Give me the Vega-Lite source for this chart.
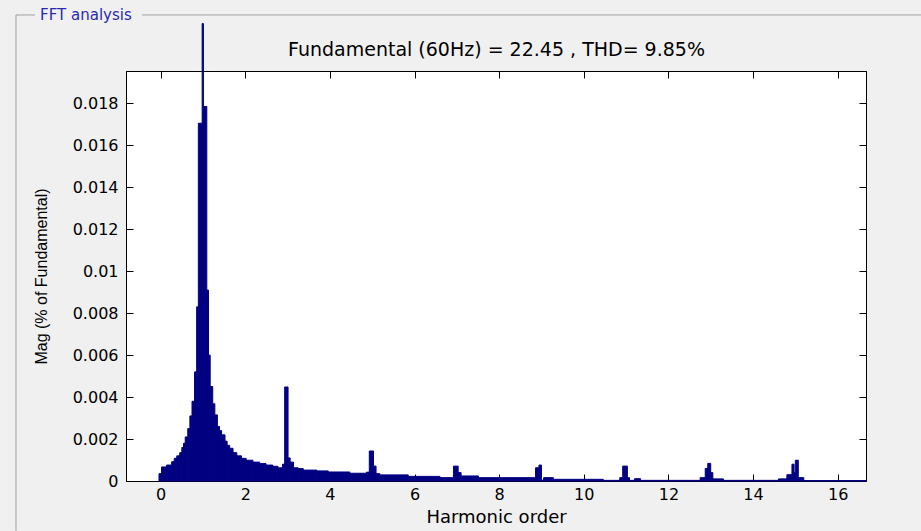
{
  "$schema": "https://vega.github.io/schema/vega-lite/v6.json",
  "autosize": {"type": "none"},
  "width": 740,
  "height": 410,
  "padding": {"left": 126, "top": 71, "right": 55, "bottom": 50},
  "background": "#f0f0f0",
  "view": {"fill": "white", "stroke": "black", "strokeWidth": 1},
  "config": {
    "axis": {
      "labelFont": "DejaVu Sans",
      "labelFontSize": 16,
      "labelColor": "black",
      "tickColor": "black",
      "tickSize": -7,
      "domainColor": "black",
      "grid": false,
      "titleFont": "DejaVu Sans",
      "titleFontWeight": "normal",
      "titleColor": "black"
    }
  },
  "datasets": {
    "spectrum": [
      {"h0": -0.04, "h1": 0.02, "m": 0.00035},
      {"h0": 0.02, "h1": 0.14, "m": 0.00067},
      {"h0": 0.14, "h1": 0.26, "m": 0.00076},
      {"h0": 0.26, "h1": 0.32, "m": 0.00092},
      {"h0": 0.32, "h1": 0.38, "m": 0.00108},
      {"h0": 0.38, "h1": 0.45, "m": 0.0012},
      {"h0": 0.45, "h1": 0.5, "m": 0.00135},
      {"h0": 0.5, "h1": 0.54, "m": 0.0016},
      {"h0": 0.54, "h1": 0.58, "m": 0.0018},
      {"h0": 0.58, "h1": 0.64, "m": 0.0021},
      {"h0": 0.64, "h1": 0.69, "m": 0.0025},
      {"h0": 0.69, "h1": 0.74, "m": 0.0031},
      {"h0": 0.74, "h1": 0.8, "m": 0.0038},
      {"h0": 0.8, "h1": 0.85, "m": 0.0052},
      {"h0": 0.85, "h1": 0.89, "m": 0.0083},
      {"h0": 0.89, "h1": 0.98, "m": 0.01705},
      {"h0": 0.98, "h1": 1.01, "m": 0.0218},
      {"h0": 1.01, "h1": 1.09, "m": 0.01785},
      {"h0": 1.09, "h1": 1.13, "m": 0.0091},
      {"h0": 1.13, "h1": 1.17, "m": 0.006},
      {"h0": 1.17, "h1": 1.23, "m": 0.0045},
      {"h0": 1.23, "h1": 1.28, "m": 0.00368},
      {"h0": 1.28, "h1": 1.34, "m": 0.00315},
      {"h0": 1.34, "h1": 1.39, "m": 0.0026},
      {"h0": 1.39, "h1": 1.44, "m": 0.0024},
      {"h0": 1.44, "h1": 1.52, "m": 0.0022},
      {"h0": 1.52, "h1": 1.57, "m": 0.0019},
      {"h0": 1.57, "h1": 1.63, "m": 0.0017},
      {"h0": 1.63, "h1": 1.71, "m": 0.00156},
      {"h0": 1.71, "h1": 1.8, "m": 0.00135},
      {"h0": 1.8, "h1": 1.91, "m": 0.0012},
      {"h0": 1.91, "h1": 2.02, "m": 0.00108},
      {"h0": 2.02, "h1": 2.18, "m": 0.00099},
      {"h0": 2.18, "h1": 2.34, "m": 0.0009},
      {"h0": 2.34, "h1": 2.49, "m": 0.00083},
      {"h0": 2.49, "h1": 2.65, "m": 0.00076},
      {"h0": 2.65, "h1": 2.77, "m": 0.0007},
      {"h0": 2.77, "h1": 2.88, "m": 0.00063},
      {"h0": 2.88, "h1": 2.93, "m": 0.0008},
      {"h0": 2.93, "h1": 3.01, "m": 0.00448},
      {"h0": 3.01, "h1": 3.06, "m": 0.0011},
      {"h0": 3.06, "h1": 3.14, "m": 0.0009},
      {"h0": 3.14, "h1": 3.25, "m": 0.00063},
      {"h0": 3.25, "h1": 3.37, "m": 0.00059},
      {"h0": 3.37, "h1": 3.69, "m": 0.00052},
      {"h0": 3.69, "h1": 3.96, "m": 0.00048},
      {"h0": 3.96, "h1": 4.47, "m": 0.00043},
      {"h0": 4.47, "h1": 4.86, "m": 0.00037},
      {"h0": 4.86, "h1": 4.93, "m": 0.00042},
      {"h0": 4.93, "h1": 5.03, "m": 0.00143},
      {"h0": 5.03, "h1": 5.09, "m": 0.00071},
      {"h0": 5.09, "h1": 5.18, "m": 0.00035},
      {"h0": 5.18, "h1": 5.85, "m": 0.00029},
      {"h0": 5.85, "h1": 6.6, "m": 0.00022},
      {"h0": 6.6, "h1": 6.92, "m": 0.00016},
      {"h0": 6.92, "h1": 7.03, "m": 0.00071},
      {"h0": 7.03, "h1": 7.1, "m": 0.0004},
      {"h0": 7.1, "h1": 7.51, "m": 0.00024},
      {"h0": 7.51, "h1": 8.86, "m": 0.00016},
      {"h0": 8.86, "h1": 8.94, "m": 0.00063},
      {"h0": 8.94, "h1": 9.0, "m": 0.00076},
      {"h0": 9.0, "h1": 9.05, "m": 0.00004},
      {"h0": 9.05, "h1": 9.28, "m": 0.00016},
      {"h0": 9.28, "h1": 10.46, "m": 0.00008},
      {"h0": 10.46, "h1": 10.85, "m": 0.00003},
      {"h0": 10.85, "h1": 10.92, "m": 0.00016},
      {"h0": 10.92, "h1": 11.03, "m": 0.00071},
      {"h0": 11.03, "h1": 11.08, "m": 0.00016},
      {"h0": 11.08, "h1": 11.2, "m": 0.00003},
      {"h0": 11.2, "h1": 11.34, "m": 0.00011},
      {"h0": 11.34, "h1": 12.75, "m": 0.00003},
      {"h0": 12.75, "h1": 12.87, "m": 0.00016},
      {"h0": 12.87, "h1": 12.93, "m": 0.0006},
      {"h0": 12.93, "h1": 13.0, "m": 0.00084},
      {"h0": 13.0, "h1": 13.05, "m": 0.0004},
      {"h0": 13.05, "h1": 13.3, "m": 0.0001},
      {"h0": 13.3, "h1": 14.6, "m": 0.00003},
      {"h0": 14.6, "h1": 14.8, "m": 0.0001},
      {"h0": 14.8, "h1": 14.92, "m": 0.0003},
      {"h0": 14.92, "h1": 14.97, "m": 0.0008},
      {"h0": 14.97, "h1": 15.0, "m": 0.0004},
      {"h0": 15.0, "h1": 15.07, "m": 0.00099},
      {"h0": 15.07, "h1": 15.2, "m": 0.00016},
      {"h0": 15.2, "h1": 16.67, "m": 0.00002}
    ]
  },
  "layer": [
    {
      "data": {"name": "spectrum"},
      "mark": {"type": "rect", "color": "#000080", "stroke": "#000080", "strokeWidth": 1},
      "encoding": {
        "x": {
          "field": "h0", "type": "quantitative",
          "scale": {"domain": [-0.82, 16.67], "nice": false, "zero": false},
          "axis": {"orient": "bottom", "values": [0, 2, 4, 6, 8, 10, 12, 14, 16], "format": "d",
                   "title": "Harmonic order", "titleFontSize": 18, "labelPadding": 12, "titlePadding": 6}
        },
        "x2": {"field": "h1"},
        "y": {
          "field": "m", "type": "quantitative",
          "scale": {"domain": [0, 0.01954], "nice": false, "zero": true},
          "axis": {"orient": "left", "values": [0, 0.002, 0.004, 0.006, 0.008, 0.01, 0.012, 0.014, 0.016, 0.018],
                   "format": "~g", "title": "Mag (% of Fundamental)", "titleFont": "Liberation Sans",
                   "titleFontSize": 16, "labelPadding": 15, "titlePadding": 23}
        },
        "y2": {"datum": 0}
      }
    },
    {
      "data": {"name": "spectrum"},
      "mark": {"type": "point", "opacity": 0},
      "encoding": {
        "x": {"field": "h0", "type": "quantitative",
              "axis": {"orient": "top", "values": [0, 2, 4, 6, 8, 10, 12, 14, 16], "labels": false,
                       "title": "Fundamental (60Hz) = 22.45 , THD= 9.85%", "titleFontSize": 19, "titlePadding": 11}},
        "y": {"field": "m", "type": "quantitative",
              "axis": {"orient": "right", "values": [0, 0.002, 0.004, 0.006, 0.008, 0.01, 0.012, 0.014, 0.016, 0.018],
                       "labels": false, "title": null}}
      }
    },
    {
      "data": {"values": [
        {"xa": -3.42, "xb": -2.97, "ya": 0.02221, "yb": 0.02221},
        {"xa": -0.44, "xb": 17.97, "ya": 0.02221, "yb": 0.02221},
        {"xa": -3.42, "xb": -3.42, "ya": 0.02221, "yb": -0.00238}
      ]},
      "mark": {"type": "rule", "color": "#a0a0a0", "strokeWidth": 1},
      "encoding": {
        "x": {"field": "xa", "type": "quantitative", "axis": null},
        "x2": {"field": "xb"},
        "y": {"field": "ya", "type": "quantitative", "axis": null},
        "y2": {"field": "yb"}
      }
    },
    {
      "data": {"values": [{"label": "FFT analysis", "xp": -2.85, "yp": 0.02221}]},
      "mark": {"type": "text", "align": "left", "baseline": "middle", "font": "DejaVu Sans", "fontSize": 15, "color": "#2a2ab0"},
      "encoding": {
        "x": {"field": "xp", "type": "quantitative", "axis": null},
        "y": {"field": "yp", "type": "quantitative", "axis": null},
        "text": {"field": "label"}
      }
    }
  ],
  "resolve": {"axis": {"x": "independent", "y": "independent"}}
}
